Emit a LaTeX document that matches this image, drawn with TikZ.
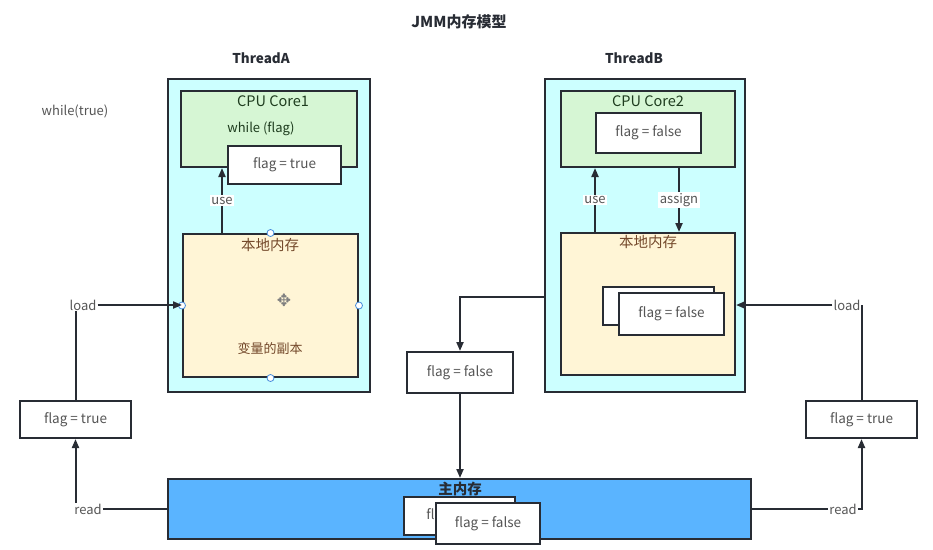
\documentclass[tikz,border=0pt]{standalone}
\usepackage{fontspec}
\setmainfont{Noto Sans CJK SC}
\newfontfamily\iconfont{DejaVu Sans}
\usepackage{xcolor}
\usepackage{tikz}
\usetikzlibrary{arrows.meta, positioning, calc}
\definecolor{mydark}{RGB}{40,44,52}
\definecolor{mygray}{RGB}{85,85,85}
\definecolor{myhandle}{RGB}{70,140,220}
\definecolor{hdrcyan}{RGB}{204,255,255}
\definecolor{hdrgreen}{RGB}{214,246,212}
\definecolor{hdryellow}{RGB}{255,245,214}
\definecolor{hdrblue}{RGB}{90,180,255}
\definecolor{txtgreen}{RGB}{30,60,30}
\definecolor{txtbrown}{RGB}{115,72,42}
\tikzset{
  threadbox/.style={rectangle, draw=mydark, fill=hdrcyan, line width=2pt, inner sep=0pt},
  corebox/.style={rectangle, draw=mydark, fill=hdrgreen, line width=2pt, inner sep=0pt},
  localbox/.style={rectangle, draw=mydark, fill=hdryellow, line width=2pt, inner sep=0pt},
  mainbox/.style={rectangle, draw=mydark, fill=hdrblue, line width=2pt, inner sep=0pt},
  valbox/.style={rectangle, draw=mydark, fill=white, line width=2pt, inner sep=0pt,
    text=mygray, font=\fontsize{13.5}{15}\selectfont},
  heading/.style={font=\bfseries\fontsize{13.5}{15}\selectfont, text=mydark},
  coretext/.style={font=\fontsize{14.5}{16}\selectfont, text=txtgreen},
  memtext/.style={font=\fontsize{14.5}{16}\selectfont, text=txtbrown},
  lbl/.style={font=\fontsize{13}{15}\selectfont, text=mygray, inner sep=1pt},
  tag/.style={font=\fontsize{13}{15}\selectfont, text=mygray, fill=white, inner sep=1.5pt},
  handle/.style={draw=myhandle, fill=white, line width=0.8pt},
  arrow/.style={-{Triangle[length=9pt, width=7pt]}, line width=2pt, color=mydark},
  line/.style={line width=2pt, color=mydark}
}

\begin{document}
\begin{tikzpicture}[x=1pt, y=-1pt]
  \useasboundingbox (0,0) rectangle (933,549);

  \node[heading, font=\bfseries\fontsize{15}{17}\selectfont] (title) at (459,22) {JMM内存模型};
  \node[heading] (nameA) at (261,58) {ThreadA};
  \node[heading] (nameB) at (634,58) {ThreadB};
  \node[lbl] (loop) at (75,111) {while(true)};

  % thread A
  \node[threadbox, minimum width=202pt, minimum height=313pt] (thrA) at (269,235.5) {};
  \node[corebox, minimum width=176pt, minimum height=76pt] (core1) at (269,129) {};
  \node[coretext] (core1txt) at (273,101) {CPU Core1};
  \node[coretext, font=\fontsize{13}{15}\selectfont] (cond) at (261,129) {while (flag)};
  \node[valbox, minimum width=113pt, minimum height=38pt] (flagA) at (284.5,165) {flag = true};
  \node[localbox, minimum width=175pt, minimum height=143pt] (local1) at (270.5,305.5) {};
  \node[memtext] (local1txt) at (270,245) {本地内存};
  \node[memtext, font=\fontsize{13}{15}\selectfont] (copytxt) at (270,349) {变量的副本};
  \node[font=\iconfont\fontsize{17}{17}\selectfont, text=gray] (move) at (284,300) {✥};
  \foreach \a in {north, south, east, west}
    \draw[handle] (local1.\a) circle (3.5);

  % thread B
  \node[threadbox, minimum width=200pt, minimum height=313pt] (thrB) at (645,235.5) {};
  \node[corebox, minimum width=174pt, minimum height=76pt] (core2) at (648,129) {};
  \node[coretext] (core2txt) at (648,101) {CPU Core2};
  \node[valbox, minimum width=105pt, minimum height=40pt] (flagB) at (648.5,133) {flag = false};
  \node[localbox, minimum width=174pt, minimum height=142pt] (local2) at (648,304) {};
  \node[memtext] (local2txt) at (648,242) {本地内存};
  \node[valbox, minimum width=111pt, minimum height=38pt] (copyB1) at (658.5,306) {};
  \node[valbox, minimum width=105pt, minimum height=42pt] (copyB2) at (671.5,314) {flag = false};

  % main memory
  \node[mainbox, minimum width=583pt, minimum height=60pt] (main) at (459.5,509) {};
  \node[heading, font=\bfseries\fontsize{14.5}{16}\selectfont] (maintxt) at (460,489) {主内存};
  \node[valbox, minimum width=111pt, minimum height=38pt] (mainv1) at (459.5,516) {flag = false};
  \node[valbox, minimum width=104pt, minimum height=41pt] (mainv2) at (488,523.5) {flag = false};

  % values on the way
  \node[valbox, minimum width=111pt, minimum height=37pt] (valL) at (75.5,419.5) {flag = true};
  \node[valbox, minimum width=111pt, minimum height=37pt] (valR) at (861.5,419.5) {flag = true};
  \node[valbox, minimum width=106pt, minimum height=41pt] (valM) at (460,372.5) {flag = false};
  \node[lbl] (loadL) at (83,305) {load};
  \node[lbl] (readL) at (88,509) {read};
  \node[lbl] (loadR) at (847,305) {load};
  \node[lbl] (readR) at (843,509) {read};
  \coordinate (useA) at (222,0);
  \coordinate (useB) at (595,0);
  \coordinate (asgB) at (679,0);

  \draw[arrow] (local1.north -| useA) -- node[tag] {use} (core1.south -| useA);
  \draw[arrow] (local2.north -| useB) -- node[tag] {use} (core2.south -| useB);
  \draw[arrow] (core2.south -| asgB) -- node[tag] {assign} (local2.north -| asgB);

  \draw[line] (readL.east) -- (main.west);
  \draw[arrow] (valL.south |- readL.north) -- (valL.south);
  \draw[line] (valL.north) -- (valL.north |- loadL.south);
  \draw[arrow] (loadL.east) -- (local1.west |- loadL.east);

  \draw[line] (main.east) -- (readR.west);
  \draw[arrow] (readR.east) -| (valR.south);
  \draw[line] (valR.north) -- (valR.north |- loadR.east);
  \draw[arrow] (loadR.west) -- (local2.east |- loadR.west);

  \draw[arrow] ([yshift=-61.5pt]thrB.west) -| (valM.north);
  \draw[arrow] (valM.south) -- (valM.south |- main.north);
\end{tikzpicture}
\end{document}
